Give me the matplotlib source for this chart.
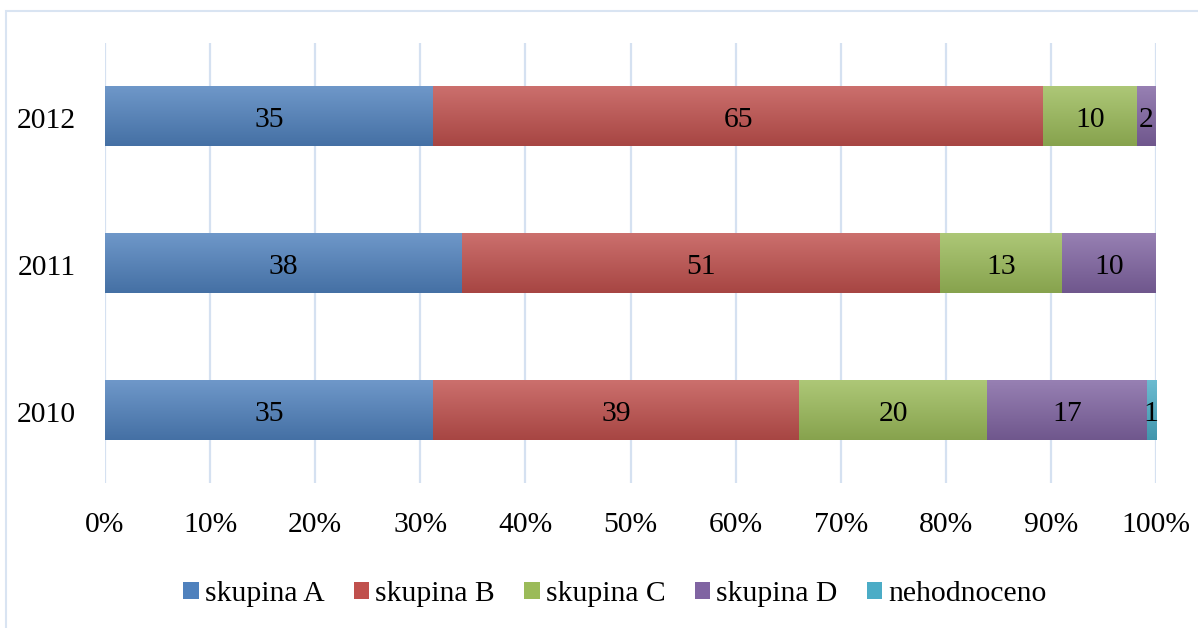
import numpy as np
import matplotlib
matplotlib.use("Agg")
import matplotlib.pyplot as plt
from matplotlib.colors import to_rgb
from matplotlib.patches import Rectangle
from matplotlib.transforms import ScaledTranslation

years = ["2010", "2011", "2012"]
series_names = ["skupina A", "skupina B", "skupina C", "skupina D", "nehodnoceno"]
skupina_a = [35, 38, 35]
skupina_b = [39, 51, 65]
skupina_c = [20, 13, 10]
skupina_d = [17, 10, 2]
nehodnoceno = [1, 0, 0]
colors = ["#4F81BD", "#C0504D", "#9BBB59", "#8064A2", "#4BACC6"]
xtick_labels = ["0%", "10%", "20%", "30%", "40%", "50%", "60%", "70%", "80%", "90%", "100%"]

plt.rcParams["font.family"] = ["Liberation Serif", "DejaVu Serif"]
FS = 21.3

fig = plt.figure(figsize=(11.98, 6.28), dpi=100)
ax = fig.add_axes([105 / 1198, 1 - 483 / 628, (1156 - 105) / 1198, 440 / 628])

data = np.array([skupina_a, skupina_b, skupina_c, skupina_d, nehodnoceno], dtype=float)
totals = data.sum(axis=0)
pct = data / totals * 100
ypos = np.arange(len(years))
bar_h = 0.408

def grad(c):
    r = np.array(to_rgb(c))
    top = r + (1 - r) * 0.18
    bot = r * 0.87
    t = np.linspace(0, 1, 64)[:, None]
    arr = top[None, :] * (1 - t) + bot[None, :] * t
    return arr[:, None, :]

shift = ax.transData + ScaledTranslation(0, -4 / 100, fig.dpi_scale_trans)
left = np.zeros(len(years))
for i, name in enumerate(series_names):
    bars = ax.barh(ypos, pct[i], left=left, height=bar_h, color=colors[i],
                   label=name, zorder=2, linewidth=0)
    for j, b in enumerate(bars):
        if pct[i][j] <= 0:
            continue
        x0, y0 = b.get_x(), b.get_y()
        w, h = b.get_width(), b.get_height()
        im = ax.imshow(grad(colors[i]), extent=(x0, x0 + w, y0, y0 + h),
                       aspect="auto", origin="upper", zorder=2.5, interpolation="bilinear")
        im.set_clip_path(b)
        ax.text(x0 + w / 2, ypos[j], f"{int(data[i][j])}", ha="center", va="center",
                fontsize=FS, color="black", zorder=4, transform=shift)
    left = left + pct[i]

ax.set_xlim(0, 100)
ax.set_ylim(-0.5, 2.5)
ax.set_xticks(np.arange(0, 101, 10))
ax.set_xticklabels(xtick_labels, fontsize=FS)
ax.set_yticks(ypos)
ax.set_yticklabels(years, fontsize=FS)
ax.tick_params(axis="x", length=0, pad=21)
ax.tick_params(axis="y", length=0, pad=21)
for lbl in ax.get_yticklabels():
    lbl.set_transform(lbl.get_transform() + ScaledTranslation(0, -2 / 100, fig.dpi_scale_trans))
for s in ax.spines.values():
    s.set_visible(False)
ax.grid(axis="x", color="#D5E1F1", linewidth=1.6, zorder=0)
ax.set_axisbelow(True)

handles, labels = ax.get_legend_handles_labels()
fig.legend(handles, labels, loc="center", bbox_to_anchor=(615 / 1198, 1 - 594 / 628),
           ncol=5, frameon=False, fontsize=FS, handlelength=0.52, handleheight=0.52,
           handletextpad=0.2, columnspacing=1.0)

fig.patches.append(Rectangle((6 / 1198, -0.1), 1.2, 1 - 11 / 628 + 0.1,
                             transform=fig.transFigure, fill=False,
                             edgecolor="#D9E4F2", linewidth=1.5, zorder=0))

fig.savefig("out.png", dpi=100)
